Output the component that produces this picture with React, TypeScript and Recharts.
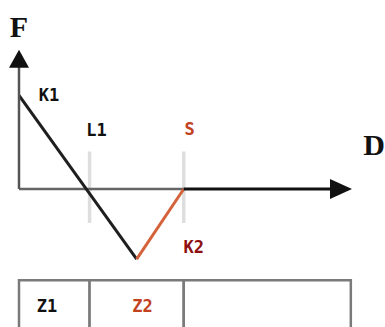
import { ComposedChart, Line, XAxis, YAxis, ReferenceLine, ReferenceDot, ReferenceArea } from 'recharts'

// descending leg K1 -> minimum, then rising leg minimum -> S
const fallD = [0, 10]
const fallF = [8, -6]
const riseD = [10, 14]
const riseF = [-6, 0]

// markers on the D axis
const L1 = 6
const S = 14
const dEnd = 28.3
const fTop = 11.9

// guide lines at L1 and S
const guideF = [3.2, -2.9]

// zone table below the plot
const zoneEdges = [0, 6, 14, 28.2]
const zoneNames = ['Z1', 'Z2', '']
const tableTop = -7.8
const tableBottom = -12.5

const fall = fallD.map((d, i) => ({ d, f: fallF[i] }))
const rise = riseD.map((d, i) => ({ d, f: riseF[i] }))
const guideL1 = guideF.map((f) => ({ d: L1, f }))
const guideS = guideF.map((f) => ({ d: S, f }))
const axisLeft = [0, S].map((d) => ({ d, f: 0 }))

const RED = '#d4633c'
const RED_TEXT = '#c2421f'
const DARK_RED = '#8e1010'
const GUIDE = '#dedede'

const smallFont = { fontFamily: 'DejaVu Sans Mono', fontWeight: 700, fontSize: 17 }
const bigFont = { fontFamily: 'Liberation Serif', fontWeight: 700, fontSize: 30 }

// label content placed relative to a reference dot
const tag = (text: string, dx: number, dy: number, fill: string, font: object) =>
    // eslint-disable-next-line @typescript-eslint/no-explicit-any
    (props: any) => {
        const { x, y } = props.viewBox
        return (
            <text x={x + dx} y={y + dy} fill={fill} textAnchor="middle" dominantBaseline="central" style={font}>
                {text}
            </text>
        )
    }

// eslint-disable-next-line @typescript-eslint/no-explicit-any
const arrowRight = (props: any) => (
    <polygon points={`${props.cx},${props.cy} ${props.cx - 22},${props.cy - 10} ${props.cx - 22},${props.cy + 10}`} fill="#111" />
)

// eslint-disable-next-line @typescript-eslint/no-explicit-any
const arrowUp = (props: any) => (
    <polygon points={`${props.cx},${props.cy} ${props.cx - 10},${props.cy + 18} ${props.cx + 10},${props.cy + 18}`} fill="#111" />
)

export default function App() {
    return (
        <div style={{ width: 385, height: 327, background: '#fff' }}>
            <style>{'body{margin:0}'}</style>
            <ComposedChart width={385} height={327} margin={{ top: 48.6, right: 33, left: 19, bottom: 0 }}>
                <XAxis type="number" dataKey="d" domain={[0, 28.3]} hide allowDataOverflow />
                <YAxis type="number" dataKey="f" domain={[-11.8, 12]} hide width={0} allowDataOverflow />

                {zoneNames.map((name, i) => (
                    <ReferenceArea
                        key={i}
                        x1={zoneEdges[i]}
                        x2={zoneEdges[i + 1]}
                        y1={tableTop}
                        y2={tableBottom}
                        fill="#fff"
                        fillOpacity={1}
                        stroke="#7a7a7a"
                        strokeWidth={2.5}
                        ifOverflow="visible"
                    />
                ))}

                <Line data={guideL1} dataKey="f" stroke={GUIDE} strokeWidth={3.5} dot={false} isAnimationActive={false} />
                <Line data={guideS} dataKey="f" stroke={GUIDE} strokeWidth={3.5} dot={false} isAnimationActive={false} />
                <Line data={axisLeft} dataKey="f" stroke="#666" strokeWidth={2.5} dot={false} isAnimationActive={false} />
                <Line data={fall} dataKey="f" stroke="#1e1e1e" strokeWidth={3} dot={false} isAnimationActive={false} />
                <Line data={rise} dataKey="f" stroke={RED} strokeWidth={3} dot={false} isAnimationActive={false} />

                <ReferenceLine segment={[{ x: 0, y: 0 }, { x: 0, y: fTop - 1 }]} stroke="#555" strokeWidth={2.5} ifOverflow="visible" />
                <ReferenceLine segment={[{ x: S, y: 0 }, { x: dEnd - 1, y: 0 }]} stroke="#111" strokeWidth={3} />

                <ReferenceDot x={dEnd} y={0} r={0} shape={arrowRight} ifOverflow="visible" label={{ content: tag('D', 22, -44, '#111', bigFont) }} />
                <ReferenceDot x={0} y={fTop} r={0} shape={arrowUp} ifOverflow="visible" label={{ content: tag('F', 0, -23, '#111', bigFont) }} />

                <ReferenceDot x={fallD[0]} y={fallF[0]} r={0} fill="none" stroke="none" label={{ content: tag('K1', 30, 0, '#111', smallFont) }} />
                <ReferenceDot x={L1} y={0} r={0} fill="none" stroke="none" label={{ content: tag('L1', 7, -59, '#111', smallFont) }} />
                <ReferenceDot x={S} y={0} r={0} fill="none" stroke="none" label={{ content: tag('S', 6, -60, RED_TEXT, smallFont) }} />
                <ReferenceDot x={S} y={0} r={0} fill="none" stroke="none" label={{ content: tag('K2', 10, 58, DARK_RED, smallFont) }} />

                <ReferenceDot x={zoneEdges[0]} y={tableTop} r={0} fill="none" stroke="none" ifOverflow="visible" label={{ content: tag(zoneNames[0], 28, 26, '#111', smallFont) }} />
                <ReferenceDot x={zoneEdges[1]} y={tableTop} r={0} fill="none" stroke="none" ifOverflow="visible" label={{ content: tag(zoneNames[1], 53, 26, RED_TEXT, smallFont) }} />
            </ComposedChart>
        </div>
    )
}
